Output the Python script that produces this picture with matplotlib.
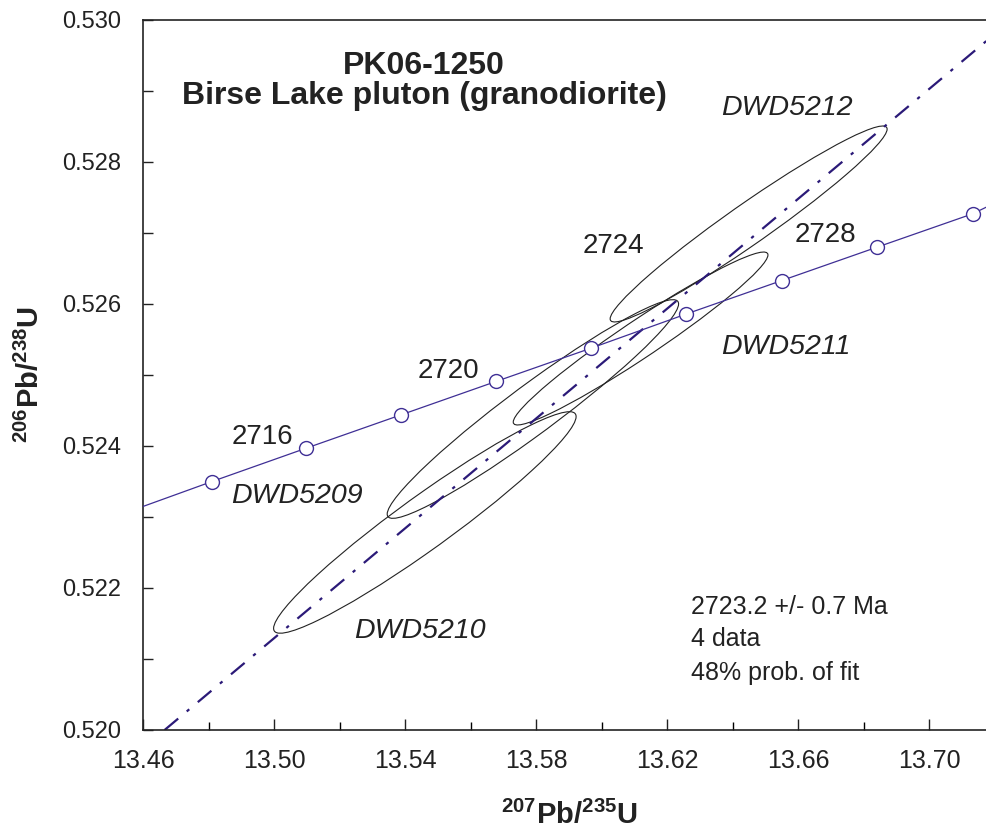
import matplotlib
matplotlib.use("Agg")
import matplotlib.pyplot as plt
from matplotlib.patches import Circle
from matplotlib.transforms import Affine2D
import numpy as np

# --- data ---
# concordia marker ages and their positions
ages = [2714, 2716, 2718, 2720, 2722, 2724, 2726, 2728, 2730]
conc_x = [13.4810, 13.5098, 13.5388, 13.5678, 13.5969, 13.6259, 13.6550, 13.6841, 13.7133]
conc_y = [0.52350, 0.52397, 0.52444, 0.52491, 0.52538, 0.52586, 0.52633, 0.52680, 0.52727]
# curve continues to the frame edges
edge_x = [13.4600, 13.7200]
edge_y = [0.52315, 0.52742]
labelled_ages = [2716, 2720, 2724, 2728]

# error ellipses: centre, half-range in x and y, correlation
spots = ['DWD5209', 'DWD5210', 'DWD5211', 'DWD5212']
ell_x = [13.5790, 13.5460, 13.6119, 13.6449]
ell_y = [0.524521, 0.522923, 0.525514, 0.527127]
ell_sx = [0.0445, 0.0462, 0.0389, 0.0423]
ell_sy = [0.001540, 0.001560, 0.001218, 0.001380]
ell_rho = [0.961, 0.956, 0.966, 0.968]

# regression line (discordia) end points
line_x = [13.4665, 13.7200]
line_y = [0.52000, 0.52980]

# --- fonts ---
plt.rcParams['font.family'] = ['Liberation Sans', 'DejaVu Sans']
plt.rcParams['mathtext.fontset'] = 'custom'
plt.rcParams['mathtext.rm'] = 'Liberation Sans:bold'
plt.rcParams['mathtext.bf'] = 'Liberation Sans:bold'

fig = plt.figure(figsize=(9.87, 8.35), dpi=100)
ax = fig.add_axes([143.3 / 987, 105 / 835, (994.5 - 143.3) / 987, 710 / 835])

conc_col = '#3f2f95'
ink = '#222222'

# concordia
cx = [edge_x[0]] + conc_x + [edge_x[1]]
cy = [edge_y[0]] + conc_y + [edge_y[1]]
ax.plot(cx, cy, color=conc_col, lw=0.9, zorder=3)
ax.plot(conc_x, conc_y, 'o', ms=10, mfc='white', mec=conc_col, mew=1.0, zorder=4)

# discordia
ax.plot(line_x, line_y, color='#2b1a78', lw=1.6, dashes=(8, 5, 1.5, 5), zorder=2)

# ellipses
for x0, y0, sx, sy, r in zip(ell_x, ell_y, ell_sx, ell_sy, ell_rho):
    m = Affine2D(np.array([[sx, 0, x0], [sy * r, sy * np.sqrt(1 - r * r), y0], [0, 0, 1]]))
    ax.add_patch(Circle((0, 0), 1, fill=False, ec=ink, lw=0.8,
                        transform=m + ax.transData, zorder=1))

# age labels
age_pos = {2716: (13.4963, 0.524127), 2720: (13.5531, 0.525056),
           2724: (13.6035, 0.526817), 2728: (13.6685, 0.526972)}
for a in labelled_ages:
    ax.text(*age_pos[a], str(a), fontsize=20, color=ink, ha='center', va='center')

spot_pos = {'DWD5209': (13.5069, 0.523296), 'DWD5210': (13.5445, 0.521394),
            'DWD5211': (13.6563, 0.525394), 'DWD5212': (13.6566, 0.528761)}
for s in spots:
    ax.text(*spot_pos[s], s, fontsize=20.5, style='italic', color=ink, ha='center', va='center')

# sample title
ax.text(0.330, 0.935, 'PK06-1250', transform=ax.transAxes, fontsize=23,
        weight='bold', color=ink, ha='center', va='center')
ax.text(0.330, 0.893, 'Birse Lake pluton (granodiorite)', transform=ax.transAxes,
        fontsize=23, weight='bold', color=ink, ha='center', va='center')

# result box
for yy, s in zip([0.163, 0.119, 0.071], ['2723.2 +/- 0.7 Ma', '4 data', '48% prob. of fit']):
    ax.text(0.644, yy, s, transform=ax.transAxes, fontsize=18, color=ink, va='baseline')

# axes
ax.set_xlim(13.46, 13.72)
ax.set_ylim(0.520, 0.530)
ax.set_xticks(np.arange(13.46, 13.7101, 0.04))
ax.set_xticks(np.arange(13.48, 13.7201, 0.04), minor=True)
ax.set_xticklabels(['%.2f' % v for v in np.arange(13.46, 13.7101, 0.04)])
ax.set_yticks(np.arange(0.520, 0.53001, 0.002))
ax.set_yticks(np.arange(0.521, 0.5300, 0.002), minor=True)
ax.set_yticklabels(['%.3f' % v for v in np.arange(0.520, 0.53001, 0.002)])
ax.tick_params(axis='x', which='major', direction='in', length=8, width=1, pad=14,
               labelsize=18, colors=ink)
ax.tick_params(axis='x', which='minor', direction='in', length=6, width=1)
ax.tick_params(axis='y', which='both', direction='in', length=7, width=1, pad=16,
               labelsize=17, colors=ink)
for sp in ax.spines.values():
    sp.set_color(ink)
    sp.set_linewidth(1.2)
ax.spines['right'].set_visible(False)

ax.set_xlabel(r'$^{207}$Pb/$^{235}$U', fontsize=21, weight='bold', color=ink, labelpad=20)
ax.set_ylabel(r'$^{206}$Pb/$^{238}$U', fontsize=21, weight='bold', color=ink, labelpad=12)

fig.savefig('out.png', dpi=100)
